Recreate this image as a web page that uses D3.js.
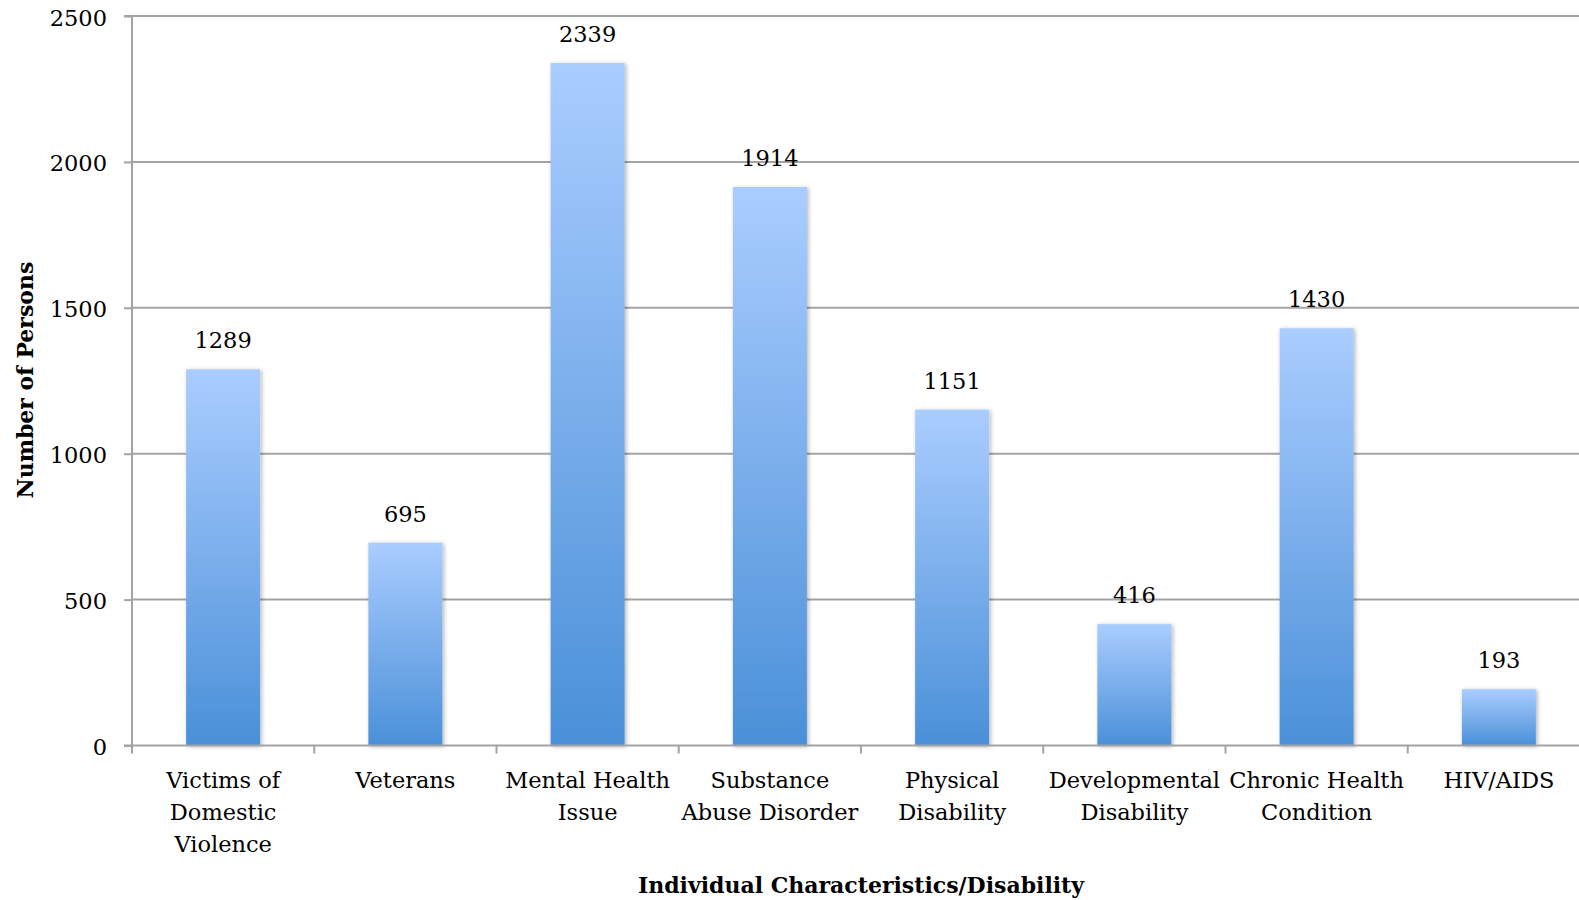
<!DOCTYPE html>
<html>
<head>
<meta charset="utf-8">
<script src="https://cdn.jsdelivr.net/npm/d3@7"></script>
<style>
  html, body { margin: 0; padding: 0; background: #fff; }
  svg { display: block; }
  text { font-family: "DejaVu Serif", serif; fill: #000; }
</style>
</head>
<body>
<svg id="chart" width="1579" height="900"></svg>
<script>
// Categories (line breaks mark where each label wraps)
const categories = [
  "Victims of\nDomestic\nViolence",
  "Veterans",
  "Mental Health\nIssue",
  "Substance\nAbuse Disorder",
  "Physical\nDisability",
  "Developmental\nDisability",
  "Chronic Health\nCondition",
  "HIV/AIDS"
];
const persons = [1289, 695, 2339, 1914, 1151, 416, 1430, 193];
const yTicks = [0, 500, 1000, 1500, 2000, 2500];
const xTitle = "Individual Characteristics/Disability";
const yTitle = "Number of Persons";

const svg = d3.select("#chart");
const W = 1579;
const plotLeft = 132, plotRight = 1590, plotTop = 16, plotBottom = 745.5;

const x = d3.scaleBand().domain(categories).range([plotLeft, plotRight]).padding(0);
const y = d3.scaleLinear().domain([0, 2500]).range([plotBottom, plotTop]);
const barW = x.bandwidth() * 0.406;

const defs = svg.append("defs");
const grad = defs.append("linearGradient")
  .attr("id", "barFill").attr("x1", 0).attr("y1", 0).attr("x2", 0).attr("y2", 1);
grad.append("stop").attr("offset", "0%").attr("stop-color", "#aacdff");
grad.append("stop").attr("offset", "100%").attr("stop-color", "#4a90d8");

const shadow = defs.append("filter").attr("id", "barShadow")
  .attr("x", "-20%").attr("y", "-10%").attr("width", "140%").attr("height", "120%");
shadow.append("feDropShadow").attr("dx", 1.5).attr("dy", 1).attr("stdDeviation", 2)
  .attr("flood-color", "#000").attr("flood-opacity", 0.3);

const gridColor = "#a3a3a3";

// Horizontal gridlines
svg.append("g").selectAll("line").data(yTicks.filter(d => d > 0)).join("line")
  .attr("x1", plotLeft).attr("x2", W)
  .attr("y1", d => y(d)).attr("y2", d => y(d))
  .attr("stroke", gridColor).attr("stroke-width", 2);

// Bars
svg.append("g").selectAll("rect").data(persons).join("rect")
  .attr("x", (d, i) => x(categories[i]) + (x.bandwidth() - barW) / 2)
  .attr("y", d => y(d))
  .attr("width", barW)
  .attr("height", d => plotBottom - y(d))
  .attr("fill", "url(#barFill)")
  .attr("filter", "url(#barShadow)");

// Value labels
svg.append("g").selectAll("text").data(persons).join("text")
  .attr("x", (d, i) => x(categories[i]) + x.bandwidth() / 2)
  .attr("y", d => y(d) - 21)
  .attr("text-anchor", "middle")
  .attr("font-size", 22.5)
  .text(d => d);

// Y axis
const yAxis = d3.axisLeft(y).tickValues(yTicks).tickSize(8).tickPadding(17).tickFormat(d3.format("d"));
const yg = svg.append("g").attr("transform", `translate(${plotLeft},0)`).call(yAxis);
yg.select(".domain").attr("stroke", gridColor).attr("stroke-width", 2)
  .attr("d", `M-8,${plotTop}H0V${plotBottom}H-8`);
yg.selectAll(".tick line").attr("stroke", gridColor).attr("stroke-width", 2);
yg.selectAll(".tick text").attr("font-size", 22.5).attr("font-family", "DejaVu Serif").attr("fill", "#000")
  .attr("dy", "0.4em");

// X axis baseline and category ticks
const xg = svg.append("g");
xg.append("line").attr("x1", plotLeft).attr("x2", W).attr("y1", plotBottom).attr("y2", plotBottom)
  .attr("stroke", gridColor).attr("stroke-width", 2);
const bounds = categories.map(c => x(c));
xg.selectAll("line.tick").data(bounds).join("line").attr("class", "tick")
  .attr("x1", d => d).attr("x2", d => d)
  .attr("y1", plotBottom).attr("y2", plotBottom + 8)
  .attr("stroke", gridColor).attr("stroke-width", 2);

// Category labels
const labels = svg.append("g").selectAll("text").data(categories).join("text")
  .attr("text-anchor", "middle")
  .attr("font-size", 22.5)
  .attr("transform", d => `translate(${x(d) + x.bandwidth() / 2},788)`);
labels.selectAll("tspan").data(d => d.split("\n")).join("tspan")
  .attr("x", 0).attr("y", (d, i) => i * 32)
  .text(d => d);

// Axis titles
svg.append("text")
  .attr("x", 861).attr("y", 893)
  .attr("text-anchor", "middle")
  .attr("font-size", 22).attr("font-weight", "bold")
  .text(xTitle);

svg.append("text")
  .attr("transform", "translate(33,380) rotate(-90)")
  .attr("text-anchor", "middle")
  .attr("font-size", 22).attr("font-weight", "bold")
  .text(yTitle);
</script>
</body>
</html>
